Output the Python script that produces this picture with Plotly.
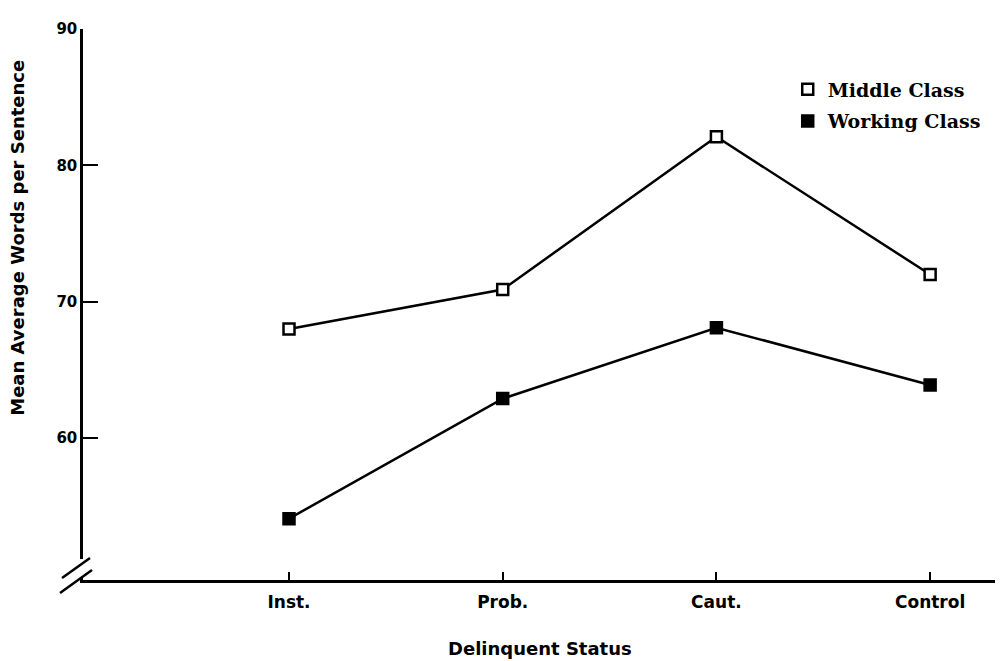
import plotly.graph_objects as go

categories = ["Inst.", "Prob.", "Caut.", "Control"]
middle_class = [68.0, 70.9, 82.1, 72.0]
working_class = [54.1, 62.9, 68.1, 63.9]
y_ticks = [60, 70, 80, 90]

x_idx = list(range(len(categories)))

fig = go.Figure()
line_style = dict(color="black", width=2.5)
open_marker = dict(symbol="square", size=11, color="white", line=dict(color="black", width=2.5))
filled_marker = dict(symbol="square", size=11, color="black", line=dict(color="black", width=2.5))

fig.add_trace(go.Scatter(x=x_idx, y=middle_class, mode="lines+markers", name="Middle Class",
                         line=line_style, showlegend=False, marker=open_marker))
fig.add_trace(go.Scatter(x=x_idx, y=working_class, mode="lines+markers", name="Working Class",
                         line=line_style, showlegend=False, marker=filled_marker))
# legend entries (markers only)
fig.add_trace(go.Scatter(x=[None], y=[None], mode="markers", name="Middle Class",
                         legendgroup="a", marker=open_marker))
fig.add_trace(go.Scatter(x=[None], y=[None], mode="markers", name="Working Class",
                         legendgroup="b", marker=filled_marker))

xtick_font = dict(family="DejaVu Sans", size=17, color="black", weight="bold")
ytick_font = dict(family="DejaVu Sans", size=15, color="black", weight="bold")

fig.update_layout(
    width=995, height=653,
    margin=dict(l=75, r=0, t=21, b=81),
    paper_bgcolor="white", plot_bgcolor="white",
    font=dict(family="DejaVu Sans", color="black"),
    xaxis=dict(range=[-0.964, 3.341], tickvals=x_idx, ticktext=categories,
               showgrid=False, zeroline=False, showline=True, linecolor="black", linewidth=2.5,
               ticks="inside", ticklen=8, tickwidth=2, tickcolor="black",
               ticklabelstandoff=5, tickfont=xtick_font),
    yaxis=dict(range=[49.6, 90], tickvals=y_ticks,
               showgrid=False, zeroline=False, showline=True, linecolor="black", linewidth=2.5,
               ticks="inside", ticklen=15, tickwidth=2, tickcolor="black",
               tickfont=ytick_font),
    legend=dict(x=0.766, y=0.925, xanchor="left", yanchor="top",
                font=dict(family="DejaVu Serif", size=19, color="black", weight="bold"),
                bgcolor="rgba(0,0,0,0)", itemwidth=30, tracegroupgap=4),
    annotations=[
        dict(text="Delinquent Status", x=0.4967, xref="paper", xanchor="center",
             y=-0.125, yref="paper", yanchor="middle", showarrow=False,
             font=dict(family="DejaVu Sans", size=18, color="black", weight="bold")),
        dict(text="Mean Average Words per Sentence", textangle=-90,
             x=-0.0707, xref="paper", xanchor="center",
             y=0.621, yref="paper", yanchor="middle", showarrow=False,
             font=dict(family="DejaVu Sans", size=18, color="black", weight="bold")),
    ],
    shapes=[
        dict(type="rect", xref="paper", yref="paper", x0=-0.0054, y0=0.0054, x1=0.0054, y1=0.038,
             fillcolor="white", line=dict(width=0)),
        dict(type="line", xref="paper", yref="paper", x0=-0.0228, y0=0.0036, x1=0.0076, y1=0.0399,
             line=dict(color="black", width=2.5)),
        dict(type="line", xref="paper", yref="paper", x0=-0.025, y0=-0.0236, x1=0.0098, y1=0.018,
             line=dict(color="black", width=2.5)),
    ],
)

fig.write_html("out.html")
